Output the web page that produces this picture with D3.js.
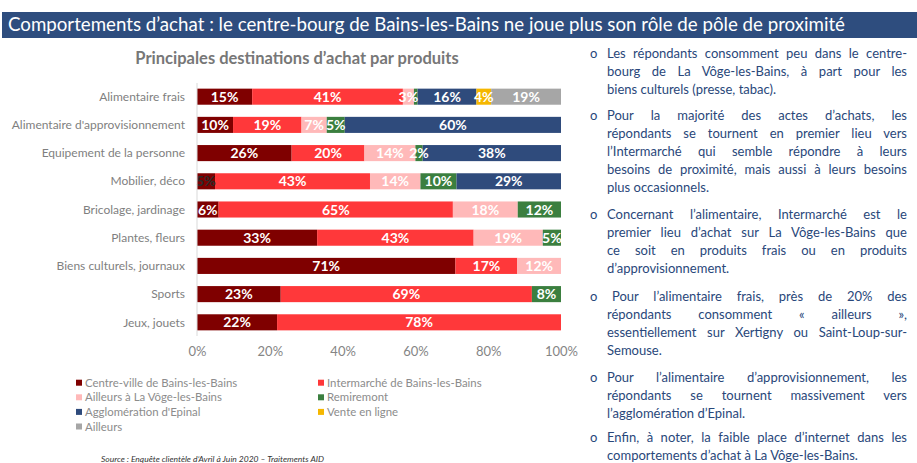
<!DOCTYPE html>
<html>
<head>
<meta charset="utf-8">
<script src="https://cdn.jsdelivr.net/npm/d3@7"></script>
<style>
  body { margin: 0; background: #fff; }
  #container { position: relative; width: 917px; height: 463px; overflow: hidden; font-family: Lato, "Open Sans", sans-serif; }
  .para { position: absolute; left: 590px; width: 317px; color: #29477a; font-size: 13px; line-height: 17.9px; }
  .para .bullet { position: absolute; left: 0; top: 0; }
  .para .ln { margin-left: 17px; text-align: justify; text-align-last: justify; white-space: nowrap; }
  .para .ln.last { text-align-last: left; }
</style>
</head>
<body>
<div id="container"></div>
<script>
// 1 - DATA
const categories = ["Alimentaire frais", "Alimentaire d'approvisionnement", "Equipement de la personne",
  "Mobilier, déco", "Bricolage, jardinage", "Plantes, fleurs", "Biens culturels, journaux", "Sports", "Jeux, jouets"];

const seriesNames = ["Centre-ville de Bains-les-Bains", "Intermarché de Bains-les-Bains", "Ailleurs à La Vôge-les-Bains",
  "Remiremont", "Agglomération d'Epinal", "Vente en ligne", "Ailleurs"];

const centreVille  = [15, 10, 26, 5, 6, 33, 71, 23, 22];
const intermarche  = [41, 19, 20, 43, 65, 43, 17, 69, 78];
const ailleursVoge = [3, 7, 14, 14, 18, 19, 12, 0, 0];
const remiremont   = [1, 5, 2, 10, 12, 5, 0, 8, 0];
const epinal       = [16, 60, 38, 29, 0, 0, 0, 0, 0];
const enLigne      = [4, 0, 0, 0, 0, 0, 0, 0, 0];
const ailleurs     = [19, 0, 0, 0, 0, 0, 0, 0, 0];

const tickValues = [0, 0.2, 0.4, 0.6, 0.8, 1];

const colors = ["#7f0000", "#ff383a", "#ffb9b9", "#3b7f3f", "#2f4b7c", "#f5b700", "#a6a6a6"];

// comment text on the right
const paragraphs = [
  ["Les répondants consomment peu dans le centre-", "bourg de La Vôge-les-Bains, à part pour les", "biens culturels (presse, tabac)."],
  ["Pour la majorité des actes d’achats, les", "répondants se tournent en premier lieu vers", "l’Intermarché qui semble répondre à leurs", "besoins de proximité, mais aussi à leurs besoins", "plus occasionnels."],
  ["Concernant l’alimentaire, Intermarché est le", "premier lieu d’achat sur La Vôge-les-Bains que", "ce soit en produits frais ou en produits", "d’approvisionnement."],
  ["Pour l’alimentaire frais, près de 20% des", "répondants consomment « ailleurs »,", "essentiellement sur Xertigny ou Saint-Loup-sur-", "Semouse."],
  ["Pour l’alimentaire d’approvisionnement, les", "répondants se tournent massivement vers", "l’agglomération d’Epinal."],
  ["Enfin, à noter, la faible place d’internet dans les", "comportements d’achat à La Vôge-les-Bains."]
];
const paraTops = [45, 107, 206, 288, 369, 429];
const paraIndent = [0, 0, 0, 5, 0, 0];

// 2 - BUILD TABLE for stacking
const allSeries = [centreVille, intermarche, ailleursVoge, remiremont, epinal, enLigne, ailleurs];
const table = categories.map((c, i) => {
  const row = { cat: c };
  seriesNames.forEach((s, j) => row[s] = allSeries[j][i]);
  return row;
});

const stacked = d3.stack().keys(seriesNames).offset(d3.stackOffsetExpand)(table);

// 3 - SCALES
const xScale = d3.scaleLinear().domain([0, 1]).range([197, 561]);
const yScale = d3.scaleBand().domain(categories).range([83, 336]).paddingInner(0.43).paddingOuter(0.2);
const colorScale = d3.scaleOrdinal().domain(seriesNames).range(colors);

// 4 - ELEMENTS
const container = d3.select("#container");
const svg = container.append("svg").attr("width", 917).attr("height", 463)
  .style("position", "absolute").style("left", 0).style("top", 0);

// title banner
svg.append("rect").attr("x", 2).attr("y", 12).attr("width", 915).attr("height", 26).attr("fill", "#2e4d7e");
svg.append("text").attr("x", 8).attr("y", 31).attr("fill", "#fff")
  .style("font-size", "18.5px")
  .attr("textLength", 837).attr("lengthAdjust", "spacingAndGlyphs")
  .text("Comportements d’achat : le centre-bourg de Bains-les-Bains ne joue plus son rôle de pôle de proximité");

// chart title
svg.append("text").attr("x", 297).attr("y", 64).attr("text-anchor", "middle")
  .attr("fill", "#777").style("font-size", "16.5px").style("font-weight", "bold")
  .text("Principales destinations d’achat par produits");

// 5 - BARS
const groups = svg.selectAll("g.serie").data(stacked).join("g")
  .attr("class", "serie").attr("fill", d => colorScale(d.key));

groups.selectAll("rect").data(d => d).join("rect")
  .attr("x", d => xScale(d[0]))
  .attr("y", d => yScale(d.data.cat))
  .attr("width", d => xScale(d[1]) - xScale(d[0]))
  .attr("height", yScale.bandwidth());

// segment labels
const labels = [];
stacked.forEach((s, j) => s.forEach(d => {
  const v = d.data[s.key];
  if (v >= 2) labels.push({ v, j, cat: d.data.cat, x0: d[0], x1: d[1] });
}));

svg.selectAll("text.count").data(labels).join("text")
  .attr("class", "count")
  .attr("x", d => xScale((d.x0 + d.x1) / 2))
  .attr("y", d => yScale(d.cat) + yScale.bandwidth() / 2)
  .attr("dy", "0.36em")
  .attr("text-anchor", "middle")
  .attr("fill", d => (d.cat === "Mobilier, déco" && d.j === 0) ? "#2b2b2b" : "#fff")
  .style("font-size", "14px").style("font-weight", "bold")
  .text(d => d.v + "%");

// category axis line + labels
svg.append("line").attr("x1", 197).attr("x2", 197).attr("y1", 83).attr("y2", 336)
  .attr("stroke", "#d9d9d9");

svg.selectAll("text.cat").data(categories).join("text")
  .attr("class", "cat")
  .attr("x", 185)
  .attr("y", d => yScale(d) + yScale.bandwidth() / 2)
  .attr("dy", "0.35em")
  .attr("text-anchor", "end")
  .attr("fill", "#7f7f7f")
  .style("font-size", "12px")
  .text(d => d);

// x axis
const xAxis = svg.append("g").attr("transform", "translate(0,341)")
  .call(d3.axisBottom(xScale).tickValues(tickValues).tickFormat(d3.format(".0%")).tickSize(0).tickPadding(6));
xAxis.select(".domain").remove();
xAxis.selectAll("text").attr("fill", "#858585").style("font-size", "13px").style("font-family", "Lato, sans-serif");

// 6 - LEGEND (two columns, row-major)
const legend = svg.selectAll("g.leg").data(seriesNames).join("g")
  .attr("class", "leg")
  .attr("transform", (d, i) => `translate(${i % 2 === 0 ? 76 : 318},${382.7 + Math.floor(i / 2) * 14.6})`);
legend.append("rect").attr("x", 0).attr("y", -3).attr("width", 6).attr("height", 6)
  .attr("fill", d => colorScale(d));
legend.append("text").attr("x", 9).attr("dy", "0.35em")
  .attr("fill", "#8c8c8c").style("font-size", "11.4px").text(d => d);

// source
svg.append("text").attr("x", 101).attr("y", 462).attr("fill", "#333")
  .style("font-size", "8.5px").style("font-style", "italic")
  .text("Source : Enquête clientèle d’Avril à Juin 2020 – Traitements AID");

// 7 - RIGHT COMMENTS
const paras = container.selectAll("div.para").data(paragraphs).join("div")
  .attr("class", "para").style("top", (d, i) => paraTops[i] + "px");
paras.append("div").attr("class", "bullet").text("o");
paras.each(function (d, i) {
  d3.select(this).selectAll("div.ln").data(d.map((t, k) => ({ t, k, last: k === d.length - 1 }))).join("div")
    .attr("class", l => l.last ? "ln last" : "ln")
    .style("padding-left", l => (l.k === 0 ? paraIndent[i] : 0) + "px")
    .text(l => l.t);
});
</script>
</body>
</html>
